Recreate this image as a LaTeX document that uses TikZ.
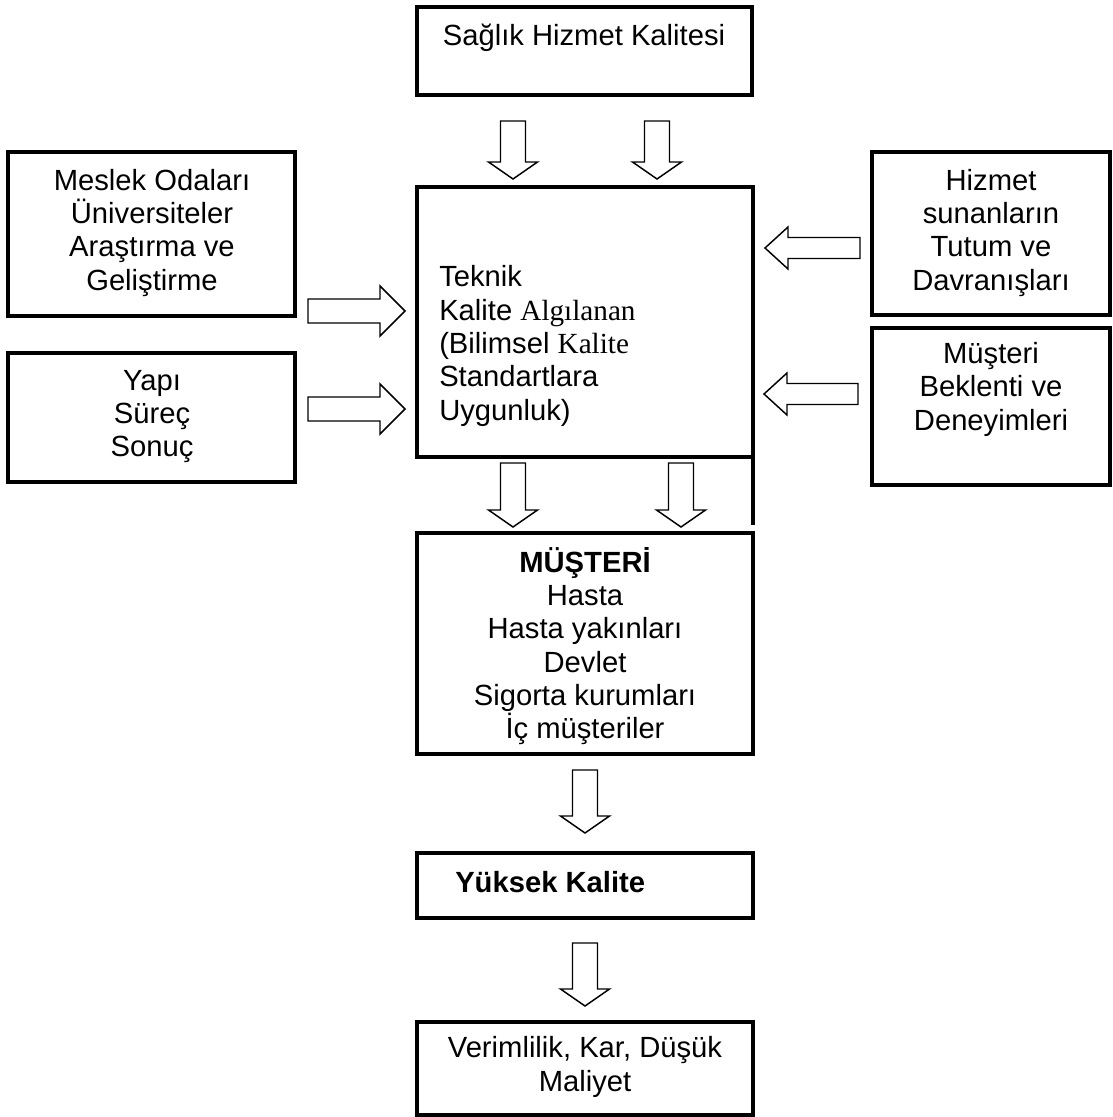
\documentclass[tikz,border=0pt]{standalone}
\usepackage{fontspec}
\setmainfont{Liberation Sans}
\newfontfamily\tnr{Liberation Serif}
\usetikzlibrary{fit}
\newcommand\myDown[3]{%
 \draw[blk] ({#1-12.5},#2) -- ({#1+12.5},#2) -- ({#1+12.5},{#3-17}) -- ({#1+24.5},{#3-17}) -- (#1,#3) -- ({#1-24.5},{#3-17}) -- ({#1-12.5},{#3-17}) -- cycle;}
\newcommand\myRight[3]{%
 \draw[blk] (#2,{#1-12}) -- ({#3-25},{#1-12}) -- ({#3-25},{#1-25}) -- (#3,#1) -- ({#3-25},{#1+25}) -- ({#3-25},{#1+12}) -- (#2,{#1+12}) -- cycle;}
\newcommand\myLeft[3]{%
 \draw[blk] (#2,{#1-10.5}) -- ({#3+23},{#1-10.5}) -- ({#3+23},{#1-21}) -- (#3,#1) -- ({#3+23},{#1+21}) -- ({#3+23},{#1+10.5}) -- (#2,{#1+10.5}) -- cycle;}
\newcommand\myBox[5]{%
 \coordinate (#1-a) at (#2,#3); \coordinate (#1-b) at (#4,#5);
 \node[box, fit=(#1-a)(#1-b)] (#1) {};}
\begin{document}
\begin{tikzpicture}[x=0.75pt,y=-0.75pt,
 box/.style={draw, line width=3pt, inner sep=0pt, outer sep=0pt, rectangle},
 txt/.style={font=\fontsize{21.9}{25}\selectfont, align=center, inner sep=0pt},
 blk/.style={draw, line width=1.1pt, fill=white, line join=miter}]
\useasboundingbox (0,0) rectangle (1113,1117);

% boxes
\myBox{top}{417}{7}{752}{95}
\myBox{lone}{8}{152}{295}{316}
\myBox{ltwo}{8}{353}{295}{482}
\myBox{cen}{417}{187}{753}{457}
\myBox{rone}{872}{152}{1110}{315}
\myBox{rtwo}{872}{328}{1110}{485}
\myBox{mus}{417}{533}{753}{754}
\myBox{yuk}{417}{853}{753}{918}
\myBox{ver}{417}{1022}{753}{1115}
\coordinate (ext) at (753,525);
\draw[line width=3pt] (cen-b) -- (ext);

% texts (base anchor = baseline of last line)
\node[txt, anchor=base] (topT) at (584,45) {Sağlık Hizmet Kalitesi};
\node[txt, anchor=base] (loneT) at (152,290) {Meslek Odaları\\Üniversiteler\\Araştırma ve\\Geliştirme};
\node[txt, anchor=base] (ltwoT) at (152,456.7) {Yapı\\Süreç\\Sonuç};
\node[txt, anchor=base west, align=left] (cenT) at (439,420.3) {Teknik\\Kalite {\tnr Algılanan}\\(Bilimsel {\tnr Kalite}\\Standartlara\\Uygunluk)};
\node[txt, anchor=base] (roneT) at (991,290) {Hizmet\\sunanların\\Tutum ve\\Davranışları};
\node[txt, anchor=base] (rtwoT) at (991,430) {Müşteri\\Beklenti ve\\Deneyimleri};
\node[txt, anchor=base] (musT) at (585,738.7) {\textbf{MÜŞTERİ}\\Hasta\\Hasta yakınları\\Devlet\\Sigorta kurumları\\İç müşteriler};
\node[txt, anchor=base west] (yukT) at (455,892) {\textbf{Yüksek Kalite}};
\node[txt, anchor=base] (verT) at (585,1091.3) {Verimlilik, Kar, Düşük\\Maliyet};

% block arrows
\myDown{513}{121}{179}
\myDown{657}{121}{179}
\myDown{513}{463}{527}
\myDown{681}{463}{527}
\myDown{585}{770}{833}
\myDown{585}{943}{1006}
\myRight{311}{308}{405}
\myRight{409}{308}{405}
\myLeft{248}{860}{765}
\myLeft{394}{858}{764}
\end{tikzpicture}
\end{document}
